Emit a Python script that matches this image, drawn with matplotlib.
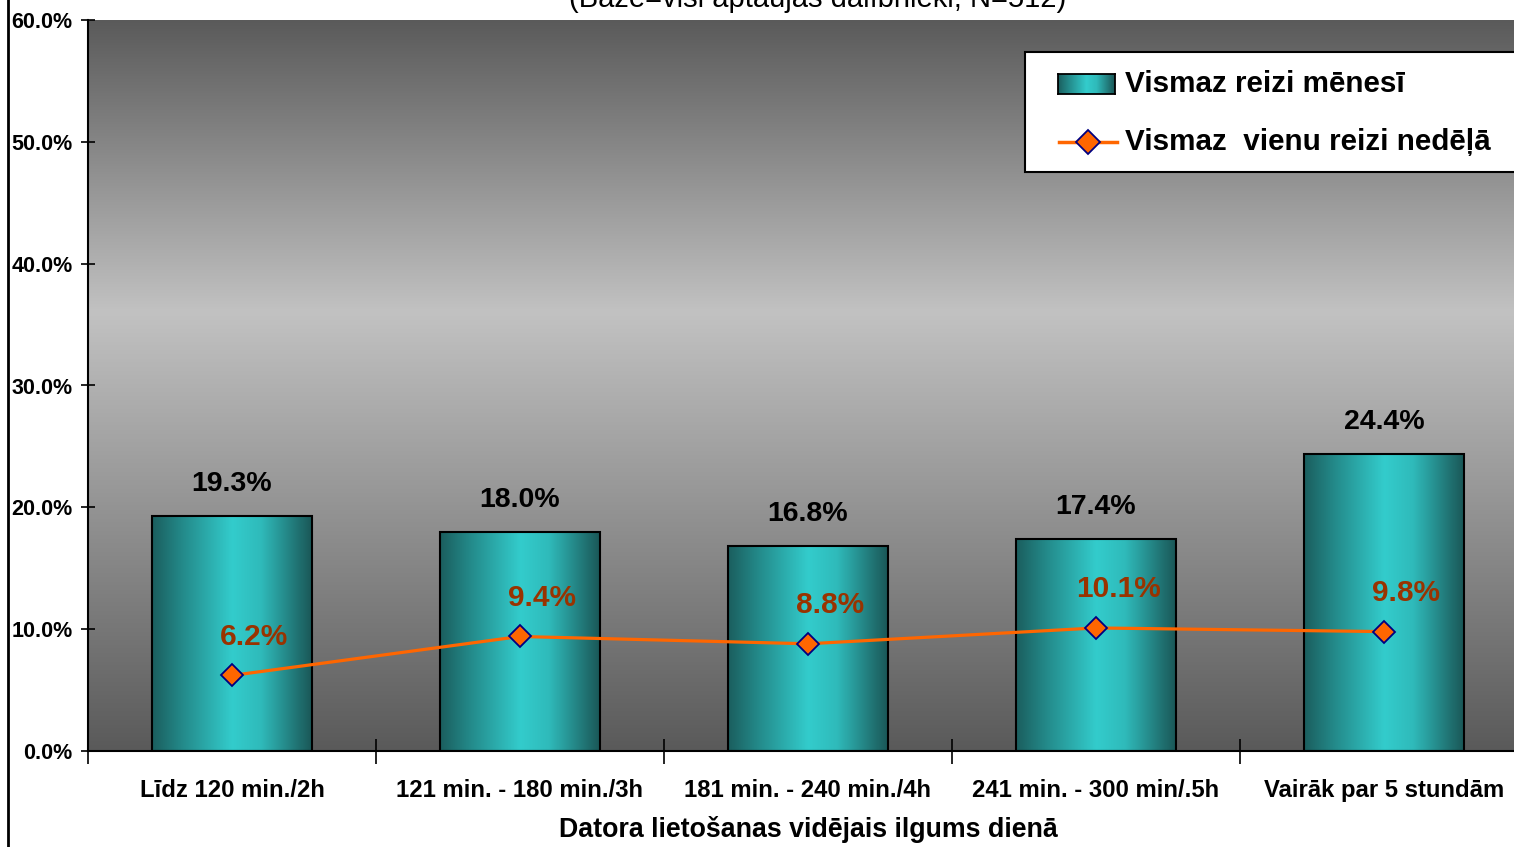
import numpy as np
import matplotlib
matplotlib.use("Agg")
import matplotlib.pyplot as plt
from matplotlib.colors import LinearSegmentedColormap
from matplotlib.lines import Line2D
from matplotlib.patches import Rectangle

plt.rcParams["font.family"] = ["Liberation Sans", "DejaVu Sans"]

# dati
CATEGORIES = [
    "Līdz 120 min./2h",
    "121 min. - 180 min./3h",
    "181 min. - 240 min./4h",
    "241 min. - 300 min/.5h",
    "Vairāk par 5 stundām",
]
MONTHLY = [19.3, 18.0, 16.8, 17.4, 24.4]
WEEKLY = [6.2, 9.4, 8.8, 10.1, 9.8]
Y_TICKS = [0, 10, 20, 30, 40, 50, 60]

TITLE = "(Bāze=visi aptaujas dalībnieki, N=512)"
XLABEL = "Datora lietošanas vidējais ilgums dienā"
LABEL_MONTHLY = "Vismaz reizi mēnesī"
LABEL_WEEKLY = "Vismaz  vienu reizi nedēļā"

W, H = 1514, 847
BAR_WIDTH = 0.556

bg_cmap = LinearSegmentedColormap.from_list(
    "bg", [(0.0, "#5a5a5a"), (0.6, "#c2c2c2"), (1.0, "#5a5a5a")]
)
bar_cmap = LinearSegmentedColormap.from_list(
    "bar", [(0.0, "#1b5e5e"), (0.18, "#238888"), (0.5, "#33cccc"),
            (0.68, "#2fbaba"), (1.0, "#1a5555")]
)


def px(x, y):
    # pikseli -> koordinate figure
    return x / W, 1 - y / H


fig = plt.figure(figsize=(W / 100, H / 100), dpi=100)
ax = fig.add_axes([88 / W, 96 / H, 1440 / W, 731 / H])

# pozadina sa gradijentom
grad = np.linspace(0, 1, 256).reshape(-1, 1)
ax.imshow(grad, cmap=bg_cmap, aspect="auto", extent=[0, 1, 0, 1],
          transform=ax.transAxes, origin="lower", zorder=0)

x = np.arange(len(CATEGORIES))
bars = ax.bar(x, MONTHLY, width=BAR_WIDTH, facecolor="none",
              edgecolor="black", linewidth=1.5, zorder=3)
hgrad = np.linspace(0, 1, 256).reshape(1, -1)
for rect, xi, val in zip(bars, x, MONTHLY):
    im = ax.imshow(hgrad, cmap=bar_cmap, aspect="auto",
                   extent=[xi - BAR_WIDTH / 2, xi + BAR_WIDTH / 2, 0, val],
                   zorder=2)
    im.set_clip_path(rect)
    ax.annotate(f"{val:.1f}%", (xi, val), xytext=(0, 23), textcoords="offset points",
                ha="center", va="center", fontsize=20.5, fontweight="bold",
                color="black", zorder=5)

ax.plot(x, WEEKLY, color="#ff6600", linewidth=2.3, marker="D", markersize=11,
        markerfacecolor="#ff6600", markeredgecolor="#000080", markeredgewidth=1.3,
        zorder=4)
for xi, val in zip(x, WEEKLY):
    ax.annotate(f"{val:.1f}%", (xi, val), xytext=(16, 28), textcoords="offset points",
                ha="center", va="center", fontsize=21.5, fontweight="bold",
                color="#993300", zorder=5)

ax.set_xlim(-0.5, len(CATEGORIES) - 0.5)
ax.set_ylim(0, 60)
ax.set_yticks(Y_TICKS)
ax.set_yticklabels([f"{v:.1f}%" for v in Y_TICKS])
ax.tick_params(axis="y", direction="inout", length=10, width=1.2, pad=6,
               labelsize=15.5)
for lbl in ax.get_yticklabels():
    lbl.set_fontweight("bold")

ax.set_xticks(x)
ax.set_xticklabels(CATEGORIES, fontsize=17.2, fontweight="bold")
ax.set_xticks(np.arange(len(CATEGORIES) + 1) - 0.5, minor=True)
ax.tick_params(axis="x", which="major", length=0, pad=20)
ax.tick_params(axis="x", which="minor", direction="inout", length=18, width=1.2)

ax.set_xlabel(XLABEL, fontsize=19.3, fontweight="bold")
ax.xaxis.set_label_coords(0.5, -0.107)
ax.xaxis.label.set_va("center")

for side in ["top", "right"]:
    ax.spines[side].set_visible(False)
for side in ["left", "bottom"]:
    ax.spines[side].set_linewidth(1.5)
    ax.spines[side].set_zorder(6)

# naslov (odsečen na vrhu, kao na originalu)
tx, ty = px(818, 7)
fig.text(tx, ty, TITLE, ha="center", va="baseline", fontsize=21)

# leva ivica okvira
fig.add_artist(Line2D([8 / W, 8 / W], [0, 1], color="black", linewidth=2))

# legenda
lx, ly = px(1025, 172)
fig.add_artist(Rectangle((lx, ly), (1560 - 1025) / W, 120 / H, transform=fig.transFigure,
                         facecolor="white", edgecolor="black", linewidth=1.5, zorder=10))
sample_ax = fig.add_axes([1058 / W, 1 - 94 / H, 57 / W, 20 / H], zorder=11)
sample_ax.imshow(hgrad, cmap=bar_cmap, aspect="auto", extent=[0, 1, 0, 1])
sample_ax.set_xticks([])
sample_ax.set_yticks([])
for sp in sample_ax.spines.values():
    sp.set_linewidth(1.3)
fig.add_artist(Line2D([1059 / W, 1117 / W], [1 - 142 / H] * 2, color="#ff6600",
                      linewidth=2.5, zorder=11))
fig.add_artist(Line2D([1088 / W], [1 - 142 / H], marker="D", markersize=12,
                      markerfacecolor="#ff6600", markeredgecolor="#000080",
                      markeredgewidth=1.3, zorder=12))
t1x, t1y = px(1125, 84)
fig.text(t1x, t1y, LABEL_MONTHLY, ha="left", va="center", fontsize=21.3,
         fontweight="bold", zorder=12)
t2x, t2y = px(1125, 142)
fig.text(t2x, t2y, LABEL_WEEKLY, ha="left", va="center", fontsize=21.3,
         fontweight="bold", zorder=12)

fig.savefig("out.png", dpi=100, facecolor="white")
